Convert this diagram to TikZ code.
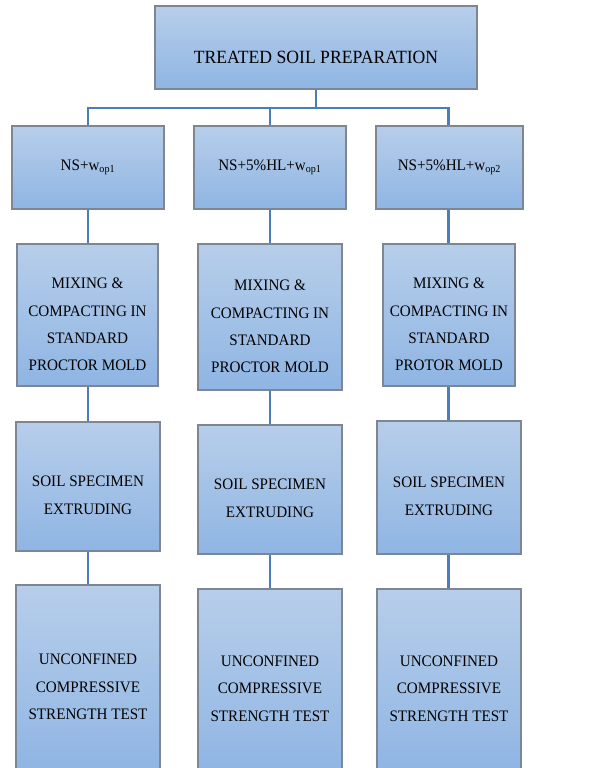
\documentclass[tikz,border=0pt]{standalone}
\usepackage{fontspec}
\setmainfont[FakeStretch=0.945]{Liberation Serif}
\usetikzlibrary{fit}
\definecolor{boxtop}{RGB}{183,206,234}
\definecolor{boxbot}{RGB}{143,181,227}
\definecolor{boxline}{RGB}{125,134,146}
\definecolor{conncol}{RGB}{74,126,187}
\begin{document}
\begin{tikzpicture}[x=0.75pt,y=-0.75pt,
  box/.style={draw=boxline, line width=0.8pt, top color=boxtop, bottom color=boxbot, inner sep=0pt},
  txt/.style={align=center, inner sep=0pt, text=black, font=\fontsize{12}{20.6}\selectfont},
  link/.style={draw=conncol, line width=1.6pt}]
\useasboundingbox (0,0) rectangle (613,768);

% boxes
\node[box, fit={(155,6) (477,89)}] (top) {};
\node[box, fit={(12,126) (164,209)}] (b21) {};
\node[box, fit={(194,126) (346,209)}] (b22) {};
\node[box, fit={(376,126) (523,209)}] (b23) {};
\node[box, fit={(17,244) (158,386)}] (b31) {};
\node[box, fit={(198,244) (342,390)}] (b32) {};
\node[box, fit={(383,244) (515,386)}] (b33) {};
\node[box, fit={(16,422) (160,551)}] (b41) {};
\node[box, fit={(198,425) (342,554)}] (b42) {};
\node[box, fit={(377,421) (521,554)}] (b43) {};
\node[box, fit={(16,585) (160,772)}] (b51) {};
\node[box, fit={(198,589) (342,772)}] (b52) {};
\node[box, fit={(377,589) (521,772)}] (b53) {};

% texts
\node[txt, font=\fontsize{14}{16}\selectfont] (t1) at (316,57) {TREATED SOIL PREPARATION};
\node[txt] (t21) at (88,167.5) {NS+w\textsubscript{op1}};
\node[txt] (t22) at (270,167.5) {NS+5\%HL+w\textsubscript{op1}};
\node[txt] (t23) at (449.5,167.5) {NS+5\%HL+w\textsubscript{op2}};
\node[txt] (t31) at (87.5,324.5) {MIXING \&\\COMPACTING IN\\STANDARD\\PROCTOR MOLD};
\node[txt] (t32) at (270,326.5) {MIXING \&\\COMPACTING IN\\STANDARD\\PROCTOR MOLD};
\node[txt] (t33) at (449,324.5) {MIXING \&\\COMPACTING IN\\STANDARD\\PROTOR MOLD};
\node[txt] (t41) at (88,495.5) {SOIL SPECIMEN\\EXTRUDING};
\node[txt] (t42) at (270,498.5) {SOIL SPECIMEN\\EXTRUDING};
\node[txt] (t43) at (449,496.5) {SOIL SPECIMEN\\EXTRUDING};
\node[txt] (t51) at (88,687) {UNCONFINED\\COMPRESSIVE\\STRENGTH TEST};
\node[txt] (t52) at (270,688.5) {UNCONFINED\\COMPRESSIVE\\STRENGTH TEST};
\node[txt] (t53) at (449,688.5) {UNCONFINED\\COMPRESSIVE\\STRENGTH TEST};

% connectors
\coordinate (bus) at (0,108);
\coordinate (c1) at (88,0);
\coordinate (c2) at (270,0);
\coordinate (c3) at (448.5,0);
\draw[link] (top.south) -- (top.south |- bus);
\draw[link] (c1 |- b21.north) -- (c1 |- bus) -- (c3 |- bus) -- (c3 |- b23.north);
\draw[link] (c2 |- bus) -- (c2 |- b22.north);
\foreach \c/\a/\b in {c1/b21/b31, c1/b31/b41, c1/b41/b51,
                      c2/b22/b32, c2/b32/b42, c2/b42/b52,
                      c3/b23/b33, c3/b33/b43, c3/b43/b53}{
  \draw[link] (\c |- \a.south) -- (\c |- \b.north);
}
\end{tikzpicture}
\end{document}
